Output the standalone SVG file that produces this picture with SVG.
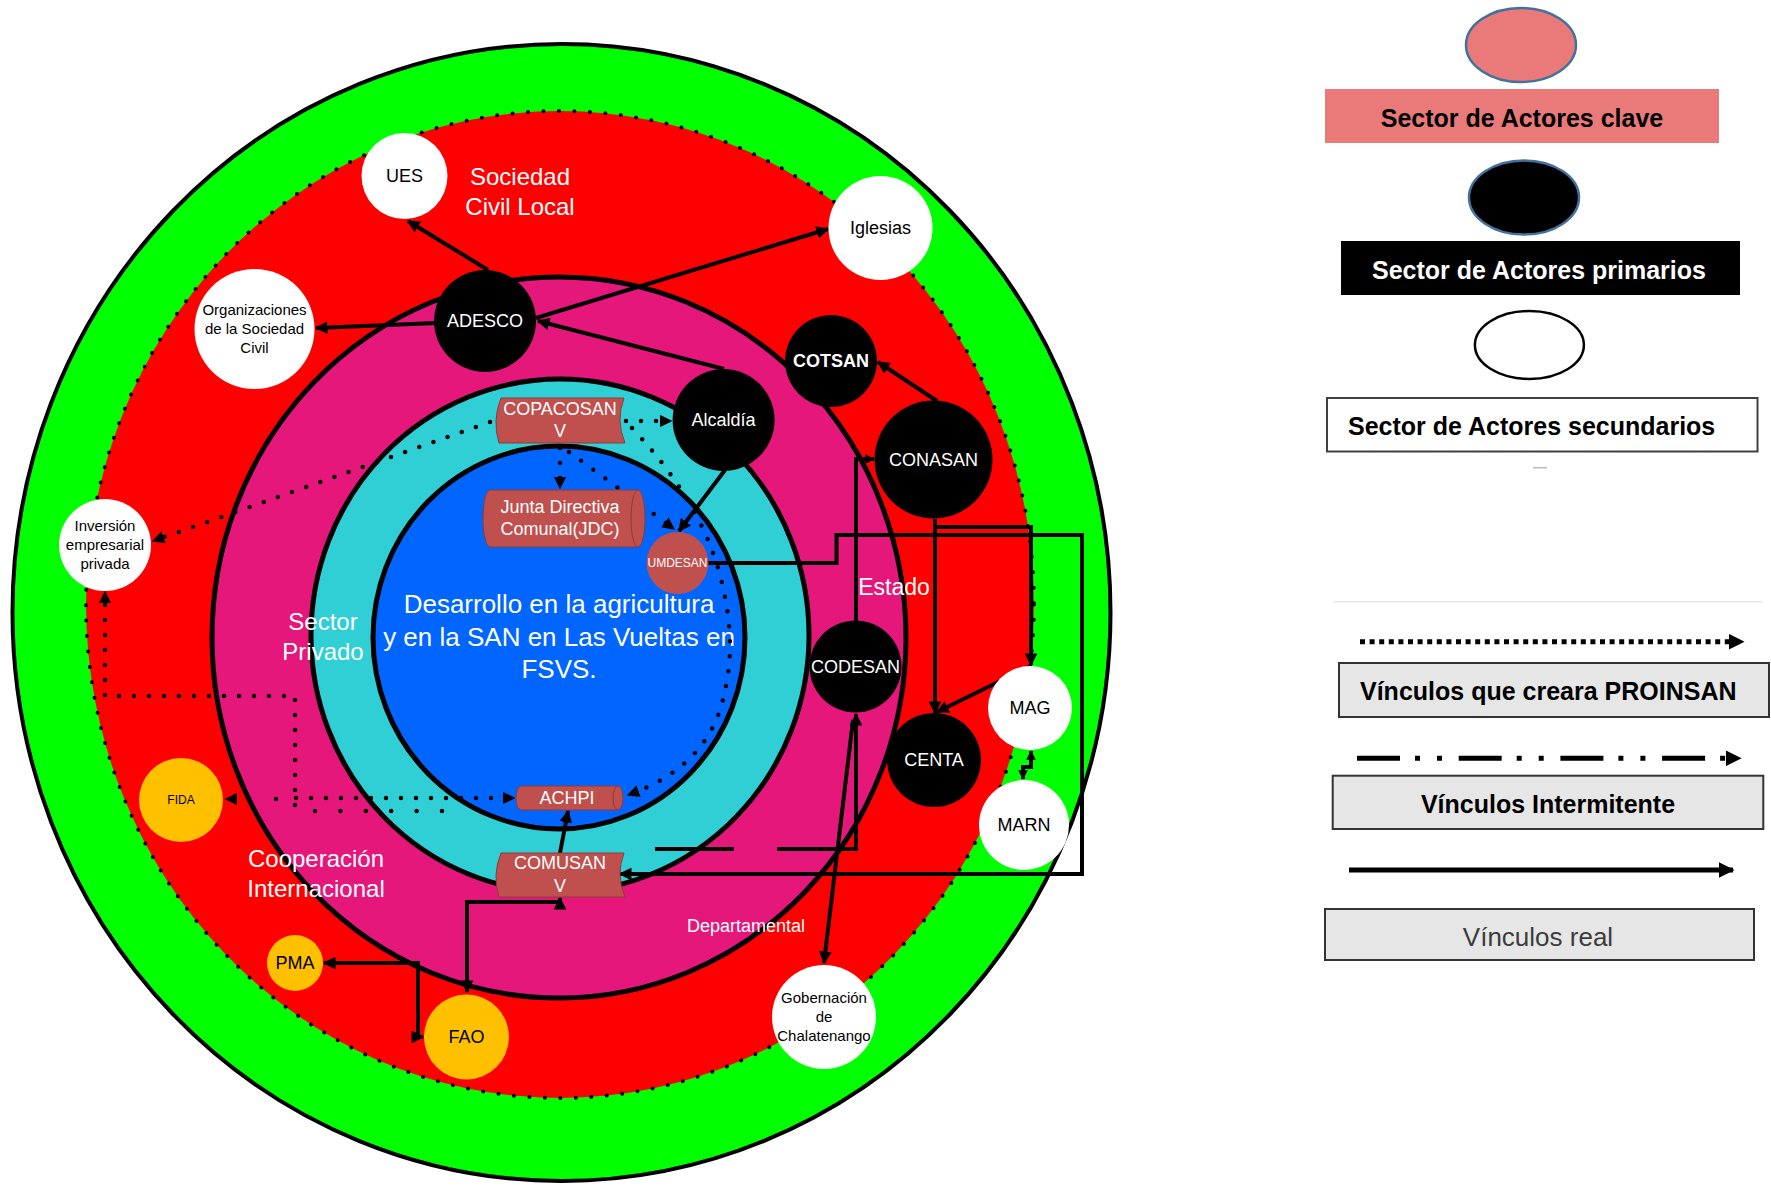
<svg xmlns="http://www.w3.org/2000/svg" width="1771" height="1186" viewBox="0 0 1771 1186">
<defs>
<style>
.ring{stroke:#000;stroke-width:5}
.real{fill:none;stroke:#000;stroke-width:4}
.plan{fill:none;stroke:#000;stroke-width:4.5;stroke-dasharray:0 15;stroke-linecap:round}
.t{font-family:"Liberation Sans",Arial,sans-serif;text-anchor:middle}
.w{fill:#fff}
.k{fill:#000}
.f12{font-size:12px}
.f15{font-size:15px}
.f18{font-size:18px}
.f24{font-size:24px}
.f26{font-size:26px}
.banner{fill:#c0504d;stroke:#8e3b39;stroke-width:1}
.cap{fill:none;stroke:#8e3b39;stroke-width:1}
.lg{font-family:"Liberation Sans",Arial,sans-serif;font-weight:bold;font-size:25px}
.lgbox{fill:#e6e6e6;stroke:#333;stroke-width:2}
</style>
<marker id="arr" viewBox="0 0 10 10" refX="9" refY="5" markerWidth="3.2" markerHeight="3.2" orient="auto-start-reverse" markerUnits="strokeWidth"><path d="M0,0 L10,5 L0,10 Z" fill="#000"/></marker>
<marker id="arrD" viewBox="0 0 10 10" refX="9" refY="5" markerWidth="2.8" markerHeight="2.8" orient="auto-start-reverse" markerUnits="strokeWidth"><path d="M0,0 L10,5 L0,10 Z" fill="#000"/></marker>
<marker id="arrS" viewBox="0 0 10 10" refX="9" refY="5" markerWidth="2.4" markerHeight="2.4" orient="auto-start-reverse" markerUnits="strokeWidth"><path d="M0,0 L10,5 L0,10 Z" fill="#000"/></marker>
</defs>
<rect x="0" y="0" width="1771" height="1186" fill="#fff"/>

<g id="rings">
<ellipse cx="561.5" cy="612.5" rx="549" ry="568.5" fill="#00ff00" stroke="#000" stroke-width="4"/>
<ellipse cx="560" cy="604.5" rx="474" ry="493.5" fill="#ff0000"/>
<ellipse cx="560" cy="604.5" rx="474" ry="493.5" fill="none" stroke="#000" stroke-width="4" stroke-dasharray="0 15.5" stroke-linecap="round"/>
<ellipse class="ring" cx="559" cy="637.5" rx="347" ry="360.5" fill="#e5177b"/>
<ellipse class="ring" cx="560" cy="635.5" rx="249" ry="256.5" fill="#2fcfd5"/>
<ellipse class="ring" cx="559" cy="637.5" rx="186" ry="191.5" fill="#0066ff"/>
</g>

<g id="ring-labels">
<text class="t w f24" x="520" y="185">Sociedad</text>
<text class="t w f24" x="520" y="215">Civil Local</text>
<text class="t w f24" x="323" y="630">Sector</text>
<text class="t w f24" x="323" y="660">Privado</text>
<text class="t w f24" x="316" y="867">Cooperación</text>
<text class="t w f24" x="316" y="897">Internacional</text>
<text class="t w" x="894" y="595" style="font-size:23px">Estado</text>
<text class="t w f18" x="746" y="932">Departamental</text>
<text class="t w f26" x="559" y="613">Desarrollo en la agricultura</text>
<text class="t w f26" x="559" y="646">y en la SAN en Las Vueltas en</text>
<text class="t w f26" x="559" y="678">FSVS.</text>
</g>

<g id="connectors">
<!-- real links -->
<path class="real" d="M488,270 L408,221" marker-end="url(#arr)"/>
<path class="real" d="M436,323 L316,328" marker-end="url(#arr)"/>
<path class="real" d="M536,318 L828,229" marker-end="url(#arr)"/>
<path class="real" d="M724,369 L538,321" marker-end="url(#arr)"/>
<path class="real" d="M725,470 L679,531" marker-end="url(#arr)"/>
<path class="real" d="M937,401 L878,362" marker-end="url(#arr)"/>
<path class="real" d="M856,621 V459 H874" marker-end="url(#arrS)"/>
<path class="real" d="M935,519 V713" marker-end="url(#arr)"/>
<path class="real" d="M935,527 H1031 V665" marker-end="url(#arr)"/>
<path class="real" d="M1031,666 L937,712" marker-end="url(#arr)"/>
<path class="real" d="M1031,751 V767 H1023 V779" stroke-width="3" marker-start="url(#arrS)" marker-end="url(#arrS)"/>
<path class="real" d="M708,563 H836.5 V535 H1082 V874 H620" marker-end="url(#arr)"/>
<path class="real" d="M853,720 L824,963" marker-end="url(#arr)"/>
<path class="real" d="M655,849 H856 V714" stroke-dasharray="79 43 400" marker-end="url(#arr)"/>
<path class="real" d="M560,853 L568,811" marker-end="url(#arr)"/>
<path class="real" d="M467,992 V902 H560 V898" marker-start="url(#arr)" marker-end="url(#arr)"/>
<path class="real" d="M324,963 H418 V1037 H423" marker-start="url(#arr)" marker-end="url(#arr)"/>
<!-- planned links (PROINSAN) -->
<path class="plan" d="M490,422 L153,541" marker-end="url(#arrD)"/>
<path class="plan" d="M626,421 L671,421" marker-end="url(#arrD)"/>
<path class="plan" d="M560,448 V488" marker-end="url(#arrD)"/>
<path class="plan" d="M569,452 L674,529" marker-end="url(#arrD)"/>
<path class="plan" d="M632,428 Q700,500 720,575 Q737,640 725,690 Q712,765 628,795" marker-end="url(#arrD)"/>
<path class="plan" d="M295,805 V696 H105 V592" marker-end="url(#arrD)"/>
<path class="plan" d="M296,798 H514" marker-end="url(#arrD)"/>
<path class="plan" d="M276,799 H226" style="stroke-dasharray:0 100" marker-end="url(#arrD)"/>
<path class="plan" d="M315,811 H445" style="stroke-dasharray:0 25.4"/>
</g>

<g id="n-ues"><circle cx="404.5" cy="176" r="43" fill="#fff"/><text class="t k f18" x="404.5" y="182">UES</text></g>
<g id="n-org"><circle cx="254.5" cy="329" r="60" fill="#fff"/>
<text class="t k f15" x="254.5" y="315">Organizaciones</text>
<text class="t k f15" x="254.5" y="334">de la Sociedad</text>
<text class="t k f15" x="254.5" y="353">Civil</text></g>
<g id="n-adesco"><circle cx="485" cy="321" r="51" fill="#000"/><text class="t w f18" x="485" y="327">ADESCO</text></g>
<g id="n-iglesias"><circle cx="880.5" cy="228" r="52" fill="#fff"/><text class="t k f18" x="880.5" y="234">Iglesias</text></g>
<g id="n-cotsan"><circle cx="831" cy="361" r="46" fill="#000"/><text class="t w f18" x="831" y="367" font-weight="bold">COTSAN</text></g>
<g id="n-conasan"><circle cx="933.5" cy="459.5" r="59" fill="#000"/><text class="t w f18" x="933.5" y="466">CONASAN</text></g>
<g id="n-alcaldia"><circle cx="723.6" cy="420" r="51" fill="#000"/><text class="t w f18" x="723.6" y="426">Alcaldía</text></g>
<g id="n-copacosan"><path class="banner" d="M501,398 H624 Q615.5,420.5 625,443 H499 Q492,420.5 501,398 Z"/>
<text class="t w f18" x="560" y="415">COPACOSAN</text><text class="t w f18" x="560" y="437">V</text></g>
<g id="n-jdc"><path class="banner" d="M490,490 H638 A7,28.5 0 0 1 638,547 H490 A7,28.5 0 0 1 490,490 Z"/>
<path class="cap" d="M638,490 A7,28.5 0 0 0 638,547"/>
<text class="t w f18" x="560" y="513">Junta Directiva</text><text class="t w f18" x="560" y="535">Comunal(JDC)</text></g>
<g id="n-umdesan"><circle cx="677.5" cy="563" r="31" fill="#c0504d"/><text class="t w f12" x="677.5" y="567">UMDESAN</text></g>
<g id="n-achpi"><path class="banner" d="M521,786 H618 A5,12 0 0 1 618,810 H521 A5,12 0 0 1 521,786 Z"/>
<path class="cap" d="M618,786 A5,12 0 0 0 618,810"/>
<text class="t w f18" x="567" y="804">ACHPI</text></g>
<g id="n-comusan"><path class="banner" d="M501,853 H624 Q615.5,875 625,897 H499 Q492,875 501,853 Z"/>
<text class="t w f18" x="560" y="869">COMUSAN</text><text class="t w f18" x="560" y="892">V</text></g>
<g id="n-codesan"><circle cx="855.5" cy="666.5" r="46" fill="#000"/><text class="t w f18" x="855.5" y="673">CODESAN</text></g>
<g id="n-centa"><circle cx="934" cy="760" r="47" fill="#000"/><text class="t w f18" x="934" y="766">CENTA</text></g>
<g id="n-mag"><circle cx="1030" cy="708" r="42" fill="#fff"/><text class="t k f18" x="1030" y="714">MAG</text></g>
<g id="n-marn"><circle cx="1024" cy="825" r="45" fill="#fff"/><text class="t k f18" x="1024" y="831">MARN</text></g>
<g id="n-gobernacion"><circle cx="824" cy="1017" r="52" fill="#fff"/>
<text class="t k f15" x="824" y="1003">Gobernación</text>
<text class="t k f15" x="824" y="1022">de</text>
<text class="t k f15" x="824" y="1041">Chalatenango</text></g>
<g id="n-inversion"><circle cx="105" cy="545" r="46" fill="#fff"/>
<text class="t k f15" x="105" y="531">Inversión</text>
<text class="t k f15" x="105" y="550">empresarial</text>
<text class="t k f15" x="105" y="569">privada</text></g>
<g id="n-fida"><circle cx="181" cy="800" r="42" fill="#ffc000"/><text class="t k f12" x="181" y="804">FIDA</text></g>
<g id="n-pma"><circle cx="295" cy="963" r="28" fill="#ffc000"/><text class="t k f18" x="295" y="969">PMA</text></g>
<g id="n-fao"><circle cx="466.5" cy="1037" r="42.5" fill="#ffc000"/><text class="t k f18" x="466.5" y="1043">FAO</text></g>

<g id="legend">
<ellipse cx="1521" cy="45" rx="55" ry="37" fill="#ea7a7a" stroke="#41719c" stroke-width="2.5"/>
<rect x="1325" y="89" width="394" height="54" fill="#ea7a7a"/>
<text class="lg" x="1522" y="127" text-anchor="middle" fill="#000">Sector de Actores clave</text>
<ellipse cx="1524" cy="197.5" rx="55" ry="37" fill="#000" stroke="#41719c" stroke-width="2.5"/>
<rect x="1341" y="241" width="399" height="54" fill="#000"/>
<text class="lg" x="1539" y="279" text-anchor="middle" fill="#fff">Sector de Actores primarios</text>
<ellipse cx="1529.4" cy="345" rx="54.5" ry="34" fill="#fff" stroke="#000" stroke-width="2.5"/>
<rect x="1327" y="398" width="430.5" height="53.5" fill="#fff" stroke="#404040" stroke-width="2"/>
<text class="lg" x="1348" y="435" fill="#000">Sector de Actores secundarios</text>
<line x1="1533" y1="467.7" x2="1547" y2="467.7" stroke="#bbb" stroke-width="1.5"/>
<line x1="1333" y1="601.7" x2="1763" y2="601.7" stroke="#e8e8e8" stroke-width="1.5"/>
<path d="M1360,641.7 H1743" fill="none" stroke="#000" stroke-width="5" stroke-dasharray="5 4.6" marker-end="url(#arr)"/>
<rect class="lgbox" x="1339" y="663" width="430" height="54"/>
<text class="lg" x="1360" y="700" fill="#000">Vínculos que creara PROINSAN</text>
<path d="M1357,758.3 H1740" fill="none" stroke="#000" stroke-width="5" stroke-dasharray="43 15 5 17 5 16.7" marker-end="url(#arr)"/>
<rect class="lgbox" x="1332.7" y="775.7" width="430.6" height="53.3"/>
<text class="lg" x="1548" y="813" text-anchor="middle" fill="#000">Vínculos Intermitente</text>
<path d="M1349,870 H1733" fill="none" stroke="#000" stroke-width="5" marker-end="url(#arr)"/>
<rect class="lgbox" x="1325" y="909" width="429" height="51" stroke="#555"/>
<text x="1538" y="946" text-anchor="middle" fill="#3c3c3c" style="font-family:'Liberation Sans',Arial,sans-serif;font-size:26px">Vínculos real</text>
</g>
</svg>
